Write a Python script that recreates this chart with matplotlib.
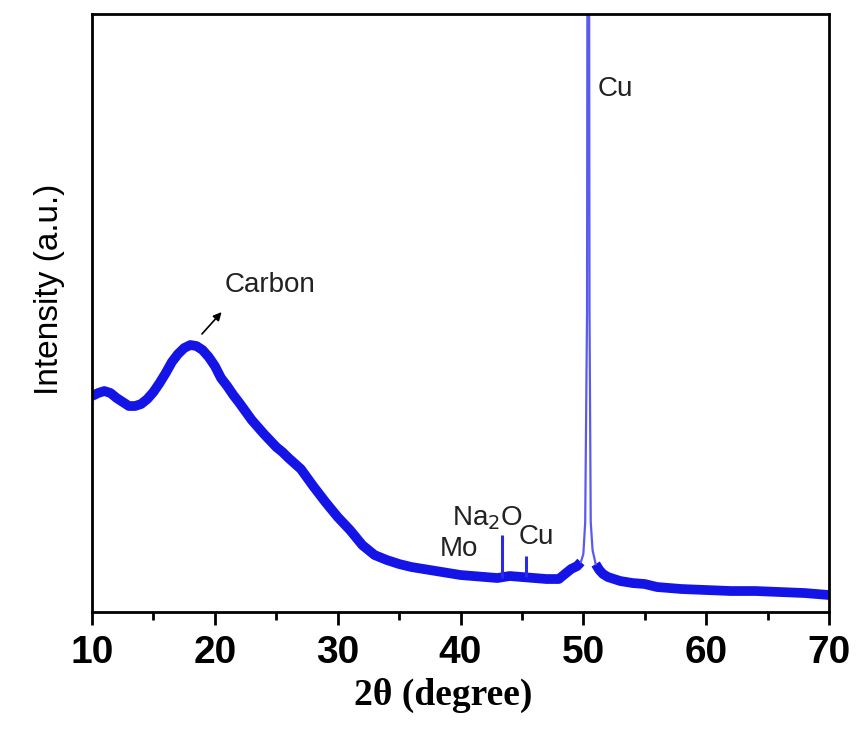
import numpy as np
import matplotlib
matplotlib.use("Agg")
import matplotlib.pyplot as plt

# XRD pattern (intensity in arbitrary units)
two_theta = [10.0, 10.5, 11.0, 11.5, 12.0, 12.5, 13.0, 13.5, 14.0, 14.5,
             15.0, 15.5, 16.0, 16.5, 17.0, 17.5, 18.0, 18.5, 19.0, 19.5,
             20.0, 20.5, 21.0, 21.5, 22.0, 23.0, 24.0, 25.0, 25.5, 26.0,
             27.0, 28.0, 29.0, 30.0, 31.0, 32.0, 33.0, 34.0, 35.0, 36.0,
             37.0, 38.0, 39.0, 40.0, 41.0, 42.0, 43.0, 44.0, 45.0, 46.0,
             47.0, 48.0, 48.5, 49.0, 49.5, 49.8, 50.0,
             50.15, 50.3, 50.4, 50.5, 50.6, 50.75,
             51.0, 51.3, 51.6, 52.0, 53.0, 54.0, 55.0, 56.0, 58.0, 60.0,
             62.0, 64.0, 66.0, 68.0, 70.0]
intensity = [216, 219, 221, 219, 214, 210, 206, 206, 208, 213,
             220, 229, 239, 250, 258, 264, 267, 266, 262, 255,
             246, 234, 226, 217, 209, 192, 178, 165, 160, 154,
             143, 126, 110, 95, 82, 67, 57, 52, 48, 45,
             43, 41, 39, 37, 36, 35, 34, 36, 35, 34,
             33, 33, 38, 43, 46, 50, 58,
             90, 300, 1400, 300, 90, 62,
             48, 42, 38, 35, 31, 29, 28, 25, 23, 22,
             21, 21, 20, 19, 17]

# small sharp reflections
spike_pos = [43.4, 45.3]
spike_base = [34, 35]
spike_top = [77, 56]

x = np.array(two_theta)
y = np.array(intensity, dtype=float)

fig = plt.figure(figsize=(8.65, 7.54), dpi=100)
ax = fig.add_axes([0.1064, 0.1883, 0.8520, 0.7931])

# broad background drawn thick (noise band), the sharp Cu peak thin
sharp = (x > 49.85) & (x < 50.9)
broad_y = np.where(sharp, np.nan, y)
ax.plot(x, broad_y, color="#1414e6", lw=7, solid_capstyle="butt", solid_joinstyle="round")
i0, i1 = np.where(sharp)[0][[0, -1]]
ax.plot(x[i0 - 1:i1 + 2], y[i0 - 1:i1 + 2], color="#5a5af0", lw=1.6)
ax.vlines(spike_pos, spike_base, spike_top, color="#2a2ae8", lw=2.2)

ax.set_xlim(10, 70)
ax.set_ylim(0, 598)
ax.set_yticks([])
ax.set_xticks(np.arange(10, 71, 10))
ax.set_xticks(np.arange(15, 70, 10), minor=True)
ax.tick_params(axis="x", which="major", direction="out", length=9.5, width=2, pad=7)
ax.tick_params(axis="x", which="minor", direction="out", length=6, width=2)
for lab in ax.get_xticklabels():
    lab.set_fontfamily("Liberation Sans")
    lab.set_fontweight("bold")
    lab.set_fontsize(28)
for sp in ax.spines.values():
    sp.set_linewidth(2)

ax.set_xlabel("2θ (degree)", fontsize=27, fontweight="bold",
              family="Liberation Serif")
ax.xaxis.set_label_coords(0.476, -0.11)
ax.set_ylabel("Intensity (a.u.)", fontsize=24, family="Liberation Sans")
ax.yaxis.set_label_coords(-0.037, 0.54)

txt = dict(fontsize=20, family="Liberation Sans", color="#222222",
           ha="center", va="center")
ax.text(24.5, 327, "Carbon", **txt)
ax.text(52.6, 523, "Cu", **txt)
ax.text(42.2, 94, "Na$_2$O", **txt)
ax.text(39.9, 63, "Mo", **txt)
ax.text(46.2, 75, "Cu", **txt)
ax.annotate("", xy=(20.7, 302), xytext=(18.8, 276),
            arrowprops=dict(arrowstyle="-|>", color="black", lw=1.2,
                            mutation_scale=12))

fig.savefig("out.png", dpi=100)
